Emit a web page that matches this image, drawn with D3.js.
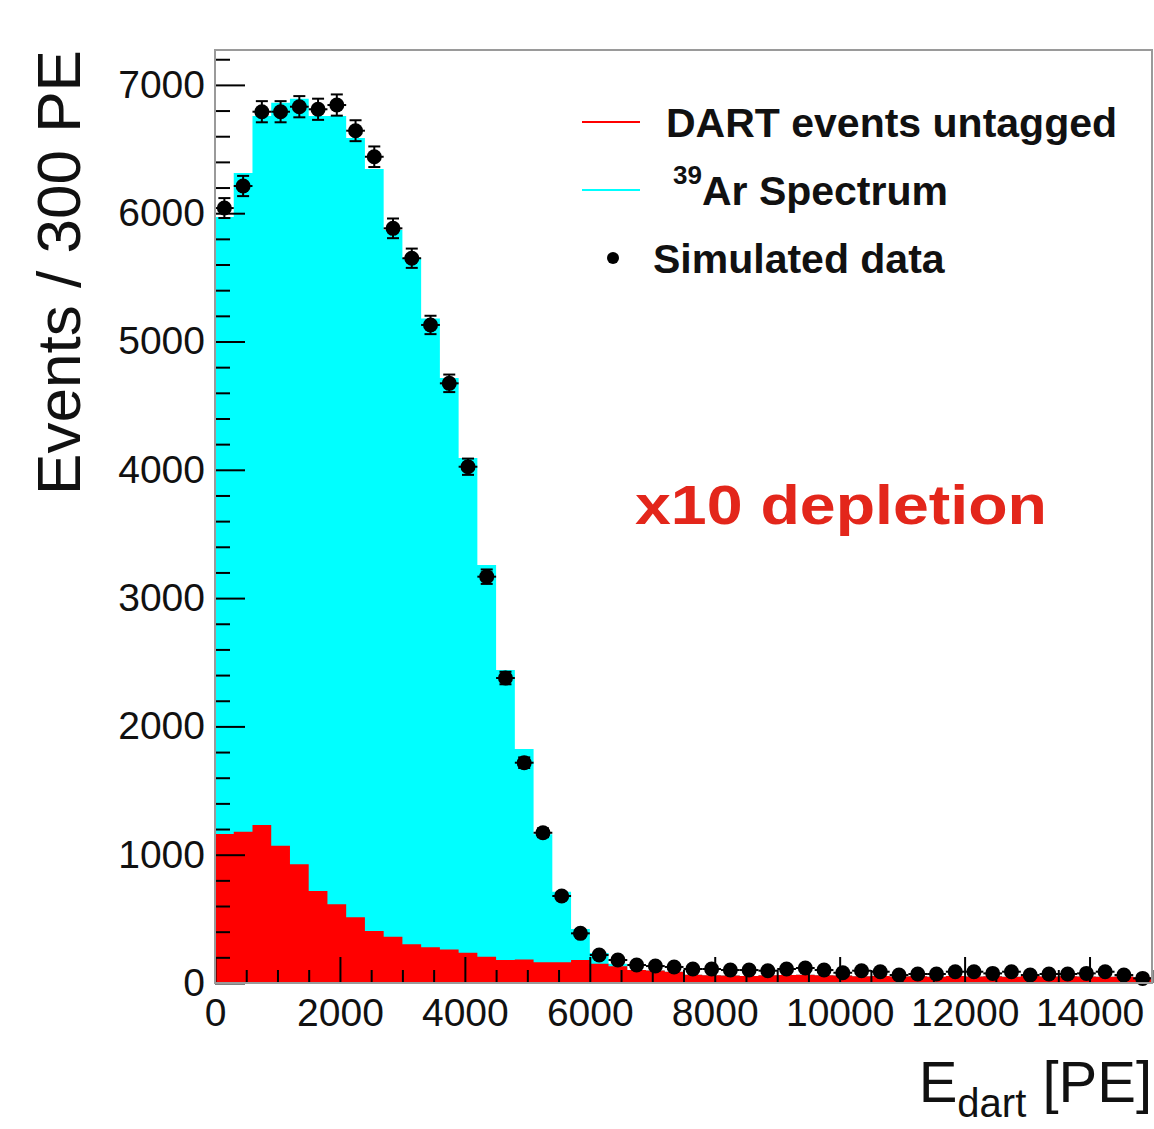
<!DOCTYPE html>
<html>
<head>
<meta charset="utf-8">
<script src="https://cdn.jsdelivr.net/npm/d3@7"></script>
<style>
  html, body { margin: 0; padding: 0; background: #fff; }
  svg { display: block; }
  text { font-family: "Liberation Sans", Arial, Helvetica, sans-serif; }
</style>
</head>
<body>
<svg id="chart" width="1154" height="1129"></svg>
<script>
// ---------- data (bins of 300 PE from 0 to 15000) ----------
const binWidth = 300;
const binStarts = d3.range(0, 15000, binWidth);

// 39Ar spectrum (cyan, drawn as total height)
const arSpectrum = [5970, 6313, 6757, 6861, 6893, 6757, 6757, 6586, 6344, 5869,
  5651, 5180, 4715, 4092, 3258, 2440, 1824, 1160, 712, 421,
  234, 150, 101, 98, 88, 65, 60, 58, 55, 60,
  62, 65, 60, 58, 52, 55, 50, 52, 48, 55,
  50, 52, 48, 55, 50, 52, 50, 48, 50, 45];

// DART events untagged (red)
const dartUntagged = [1161, 1179, 1231, 1070, 925, 717, 613, 512, 405, 361,
  302, 278, 262, 236, 205, 179, 184, 161, 161, 179,
  150, 130, 101, 98, 88, 65, 60, 58, 55, 60,
  62, 65, 60, 58, 52, 55, 50, 52, 48, 55,
  50, 52, 48, 55, 50, 52, 50, 48, 50, 45];

// Simulated data (black points)
const simData = [6040, 6212, 6791, 6791, 6830, 6810, 6843, 6643, 6440, 5882,
  5649, 5129, 4674, 4024, 3167, 2377, 1717, 1171, 678, 387,
  218, 179, 140, 132, 125, 109, 109, 101, 101, 96,
  109, 117, 101, 80, 96, 88, 62, 70, 70, 88,
  88, 75, 88, 62, 70, 70, 75, 88, 62, 36];

const xTickValues = [0, 2000, 4000, 6000, 8000, 10000, 12000, 14000];
const yTickValues = [0, 1000, 2000, 3000, 4000, 5000, 6000, 7000];

const legendLabels = ["DART events untagged", "Ar Spectrum", "Simulated data"];

// ---------- layout ----------
const svg = d3.select("#chart");
const frame = { left: 215, right: 1152, top: 50, bottom: 983 };

const x = d3.scaleLinear().domain([0, 15000]).range([frame.left, frame.right]);
const y = d3.scaleLinear().domain([0, 7272]).range([frame.bottom, frame.top]);

// ---------- histograms ----------
function histPath(values) {
  const pts = binStarts.map((s, i) => [s, values[i]]);
  pts.push([15000, values[values.length - 1]]);
  return d3.area()
    .x(d => x(d[0]))
    .y0(y(0))
    .y1(d => y(d[1]))
    .curve(d3.curveStepAfter)(pts);
}

svg.append("path").attr("d", histPath(arSpectrum)).attr("fill", "#00ffff").attr("stroke", "none");
svg.append("path").attr("d", histPath(dartUntagged)).attr("fill", "#ff0000").attr("stroke", "none");

// ---------- axes ----------
const fontTick = 39;

// y minor ticks
const yMinor = d3.range(0, 7273, 200).filter(v => v % 1000 !== 0);
svg.append("g")
  .attr("transform", `translate(${frame.left},0)`)
  .call(d3.axisLeft(y).tickValues(yMinor).tickSize(-15).tickFormat(""))
  .call(g => g.select(".domain").remove())
  .call(g => g.selectAll("line").attr("stroke", "#000").attr("stroke-width", 2));

// y major ticks
svg.append("g")
  .attr("transform", `translate(${frame.left},0)`)
  .call(d3.axisLeft(y).tickValues(yTickValues).tickSize(-30).tickPadding(10).tickFormat(d3.format("d")))
  .call(g => g.select(".domain").remove())
  .call(g => g.selectAll("line").attr("stroke", "#000").attr("stroke-width", 2))
  .call(g => g.selectAll("text").attr("font-size", fontTick).attr("fill", "#111")
    .attr("font-family", "'Liberation Sans', Arial, sans-serif"));

// x minor ticks
const xMinor = d3.range(0, 15001, 500).filter(v => v % 2000 !== 0);
svg.append("g")
  .attr("transform", `translate(0,${frame.bottom})`)
  .call(d3.axisBottom(x).tickValues(xMinor).tickSize(-13).tickFormat(""))
  .call(g => g.select(".domain").remove())
  .call(g => g.selectAll("line").attr("stroke", "#000").attr("stroke-width", 2));

// x major ticks
svg.append("g")
  .attr("transform", `translate(0,${frame.bottom})`)
  .call(d3.axisBottom(x).tickValues(xTickValues).tickSize(-26).tickPadding(15).tickFormat(d3.format("d")))
  .call(g => g.select(".domain").remove())
  .call(g => g.selectAll("line").attr("stroke", "#000").attr("stroke-width", 2))
  .call(g => g.selectAll("text").attr("font-size", fontTick).attr("fill", "#111")
    .attr("font-family", "'Liberation Sans', Arial, sans-serif"));

// ---------- data points ----------
const pts = svg.append("g");
const half = (x(binWidth) - x(0)) / 2;
simData.forEach((v, i) => {
  const cx = x(binStarts[i] + binWidth / 2);
  const err = Math.sqrt(v);
  const g = pts.append("g");
  g.append("line").attr("x1", cx).attr("x2", cx).attr("y1", y(v + err)).attr("y2", y(v - err))
    .attr("stroke", "#000").attr("stroke-width", 2);
  g.append("line").attr("x1", cx - half).attr("x2", cx + half).attr("y1", y(v)).attr("y2", y(v))
    .attr("stroke", "#000").attr("stroke-width", 2);
  [v + err, v - err].forEach(e => {
    g.append("line").attr("x1", cx - 6).attr("x2", cx + 6).attr("y1", y(e)).attr("y2", y(e))
      .attr("stroke", "#000").attr("stroke-width", 2);
  });
  g.append("circle").attr("cx", cx).attr("cy", y(v)).attr("r", 7.5).attr("fill", "#000");
});

// ---------- frame ----------
svg.append("rect")
  .attr("x", frame.left).attr("y", frame.top)
  .attr("width", frame.right - frame.left).attr("height", frame.bottom - frame.top)
  .attr("fill", "none").attr("stroke", "#9a9a9a").attr("stroke-width", 2);

// ---------- axis titles ----------
svg.append("text")
  .attr("transform", "translate(80,50) rotate(-90)")
  .attr("text-anchor", "end")
  .attr("font-size", 61)
  .attr("fill", "#111")
  .attr("textLength", 445)
  .attr("lengthAdjust", "spacingAndGlyphs")
  .text("Events / 300 PE");

const xt = svg.append("text")
  .attr("x", 1152).attr("y", 1102)
  .attr("text-anchor", "end")
  .attr("font-size", 58)
  .attr("fill", "#111");
xt.append("tspan").text("E");
xt.append("tspan").attr("font-size", 40).attr("dy", 15).text("dart");
xt.append("tspan").attr("dy", -15).text(" [PE]");

// ---------- legend ----------
const leg = svg.append("g");
leg.append("line").attr("x1", 582).attr("x2", 640).attr("y1", 122).attr("y2", 122)
  .attr("stroke", "#ff0000").attr("stroke-width", 2);
leg.append("line").attr("x1", 582).attr("x2", 640).attr("y1", 190).attr("y2", 190)
  .attr("stroke", "#00ffff").attr("stroke-width", 2);
leg.append("circle").attr("cx", 613).attr("cy", 258).attr("r", 6).attr("fill", "#000");

leg.append("text").attr("x", 666).attr("y", 137).attr("font-size", 41).attr("font-weight", "bold")
  .attr("fill", "#111").text(legendLabels[0]);
const ar = leg.append("text").attr("x", 673).attr("y", 205).attr("font-size", 41).attr("font-weight", "bold")
  .attr("fill", "#111");
ar.append("tspan").attr("font-size", 26).attr("dy", -21).text("39");
ar.append("tspan").attr("dy", 21).text(legendLabels[1]);
leg.append("text").attr("x", 653).attr("y", 273).attr("font-size", 41).attr("font-weight", "bold")
  .attr("fill", "#111").text(legendLabels[2]);

// ---------- annotation ----------
svg.append("text")
  .attr("x", 635).attr("y", 524)
  .attr("font-family", "'DejaVu Sans', Verdana, sans-serif")
  .attr("font-weight", "bold")
  .attr("font-size", 56)
  .attr("fill", "#e3261b")
  .attr("textLength", 412)
  .attr("lengthAdjust", "spacingAndGlyphs")
  .text("x10 depletion");
</script>
</body>
</html>
